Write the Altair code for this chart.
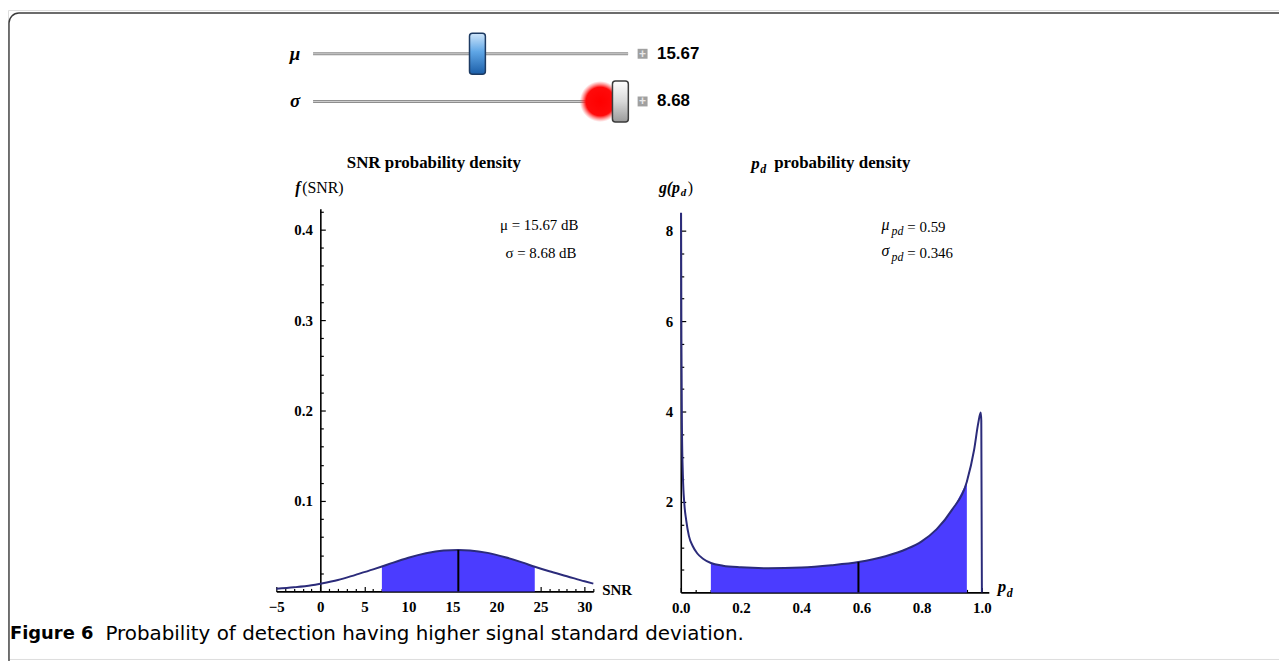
import altair as alt
import pandas as pd

W, H = 1279, 653

# ---------------- values ----------------
slider_names = ["μ", "σ"]
slider_values = [15.67, 8.68]
slider_labels = ["15.67", "8.68"]
slider_min = [-0.4, -0.1]
slider_max = [30.4, 8.9]

snr = [-5, -3, -1, 0, 2, 4, 6, 6.99, 8, 10, 12, 14, 15.67, 17, 19, 21, 23, 24.35, 26, 28, 30, 31]
f_snr = [0.0028, 0.0045, 0.0068, 0.0085, 0.0125, 0.0183, 0.0243, 0.0275, 0.0309, 0.0372, 0.0421,
         0.0451, 0.0458, 0.0453, 0.0426, 0.0378, 0.0318, 0.0272, 0.0222, 0.0168, 0.0112, 0.0086]
snr_mean = 15.67
snr_std = 8.68
snr_mean_f = 0.0458

pd_vals = [0.0008, 0.002, 0.004, 0.007, 0.012, 0.018, 0.027, 0.04, 0.055, 0.075, 0.10, 0.14, 0.20,
           0.29, 0.40, 0.50, 0.59, 0.68, 0.75, 0.80, 0.85, 0.90, 0.95, 0.974, 0.988, 0.996, 0.998, 1.0]
g_pd = [8.4, 5.6, 3.6, 2.6, 1.95, 1.6, 1.25, 1.02, 0.86, 0.74, 0.65, 0.59, 0.555,
        0.535, 0.55, 0.60, 0.67, 0.80, 0.96, 1.13, 1.40, 1.82, 2.45, 3.15, 3.75, 3.98, 3.8, 0.0]
pd_fill_lo = 0.10
pd_fill_hi = 0.95
pd_mean = 0.59
pd_mean_g = 0.67

snr_ticks_major = [-5, 0, 5, 10, 15, 20, 25, 30]
snr_ticks_minor = list(range(-5, 32))
f_ticks_major = [0.1, 0.2, 0.3, 0.4]
f_ticks_minor = [round(0.02 * k, 2) for k in range(1, 22)]
pd_ticks_major = [0.0, 0.2, 0.4, 0.6, 0.8, 1.0]
pd_ticks_minor = [round(0.05 * k, 2) for k in range(0, 21)]
g_ticks_major = [2, 4, 6, 8]
g_ticks_minor = [0.5 * k for k in range(1, 17)]

caption_bold = "Figure 6"
caption_rest = "Probability of detection having higher signal standard deviation."

# ---------------- styles ----------------
FILL = "#4b3cff"
CURVE = "#2b2b7a"
SERIF = "Liberation Serif"
SANS = "DejaVu Sans"

LX = alt.Scale(domain=[-5, 31], range=[270, 589], nice=False, zero=False)
LY = alt.Scale(domain=[0, 0.423], range=[585, 200], nice=False, zero=False)
RX = alt.Scale(domain=[0, 1.023], range=[677, 987], nice=False, zero=False)
RY = alt.Scale(domain=[0, 8.4], range=[586, 204], nice=False, zero=False)
SX = alt.Scale(domain=[0, 1], range=[307, 624], nice=False, zero=False)
SY = alt.Scale(domain=[0, 1], range=[44, 92], nice=False, zero=False)
FX = alt.Scale(domain=[0, 1], range=[0, W], nice=False, zero=False)
FY = alt.Scale(domain=[0, 1], range=[0, H], nice=False, zero=False)

AX = dict(grid=False, title=None, labelFont=SERIF, labelFontSize=15, labelFontWeight="bold",
          labelColor="black", labelFlush=False, labelOverlap=False, domain=True,
          domainColor="black", domainWidth=1.6, ticks=False, labelPadding=8)
TK = dict(grid=False, title=None, labels=False, domain=False, ticks=True,
          tickColor="black", tickWidth=1.2)


def tick_size(test):
    return {"condition": {"test": test, "value": 5}, "value": 3}


def L(px, py):
    return ((px - 322.3) / 8.861, (593 - py) / 910)


def R(px, py):
    return ((px - 685) / 303, (594 - py) / 45.5)


def text(rows, xs, ys, **style):
    df = pd.DataFrame(rows, columns=["x", "y", "t"])
    return alt.Chart(df).mark_text(baseline="middle", color="black", **style).encode(
        x=alt.X("x:Q", scale=xs, axis=None),
        y=alt.Y("y:Q", scale=ys, axis=None),
        text="t:N",
    )


# ---------------- left panel ----------------
snr_df = pd.DataFrame({"snr": snr, "f": f_snr})
lo, hi = round(snr_mean - snr_std, 2), round(snr_mean + snr_std, 2)

left_axes = alt.Chart(snr_df).mark_point(opacity=0).encode(
    x=alt.X("snr:Q", scale=LX, axis=alt.Axis(orient="bottom", offset=585 - H, values=snr_ticks_major, format="d", **AX)),
    y=alt.Y("f:Q", scale=LY, axis=alt.Axis(orient="left", offset=-314.3, values=f_ticks_major, format=".1f", **AX)),
)
left_ticks = alt.Chart(snr_df).mark_point(opacity=0).encode(
    x=alt.X("snr:Q", scale=LX, axis=alt.Axis(orient="top", offset=-585, values=snr_ticks_minor,
                                              tickSize=tick_size("datum.value % 5 === 0"), **TK)),
    y=alt.Y("f:Q", scale=LY, axis=alt.Axis(orient="right", offset=314.3 - W, values=f_ticks_minor,
                                           tickSize=tick_size("abs(datum.value*10 - round(datum.value*10)) < 0.001"), **TK)),
)

left_area = alt.Chart(snr_df).transform_filter(
    alt.FieldRangePredicate(field="snr", range=[lo, hi])
).mark_area(color=FILL, interpolate="monotone").encode(
    x=alt.X("snr:Q", scale=LX, axis=None), y=alt.Y("f:Q", scale=LY, axis=None))
left_line = alt.Chart(snr_df).mark_line(color=CURVE, strokeWidth=2, interpolate="monotone").encode(
    x=alt.X("snr:Q", scale=LX, axis=None), y=alt.Y("f:Q", scale=LY, axis=None))
left_mean = alt.Chart(pd.DataFrame({"x": [snr_mean], "y0": [0.0], "y1": [snr_mean_f]})).mark_rule(
    color="black", strokeWidth=2).encode(
    x=alt.X("x:Q", scale=LX, axis=None), y=alt.Y("y0:Q", scale=LY, axis=None), y2="y1:Q")

left_texts = [
    text([(*L(436.5, 162), "SNR probability density")], LX, LY, font=SERIF, fontSize=17, fontWeight="bold", align="center"),
    text([(*L(297, 187), "f")], LX, LY, font=SERIF, fontSize=16, fontStyle="italic", fontWeight="bold", align="left"),
    text([(*L(304, 187), "(SNR)")], LX, LY, font=SERIF, fontSize=16, align="left"),
    text([(*L(582, 224), "μ = 15.67 dB"), (*L(580, 253), "σ = 8.68 dB")], LX, LY, font=SERIF, fontSize=15, align="right"),
    text([(*L(606, 592), "SNR")], LX, LY, font=SERIF, fontSize=15, fontWeight="bold", align="left"),
]
left_group = alt.layer(left_area, left_line, left_mean, *left_texts)

# ---------------- right panel ----------------
pd_df = pd.DataFrame({"p": pd_vals, "g": g_pd})

right_axes = alt.Chart(pd_df).mark_point(opacity=0).encode(
    x=alt.X("p:Q", scale=RX, axis=alt.Axis(orient="bottom", offset=586 - H, values=pd_ticks_major, format=".1f", **AX)),
    y=alt.Y("g:Q", scale=RY, axis=alt.Axis(orient="left", offset=-677, values=g_ticks_major, format="d", **AX)),
)
right_ticks = alt.Chart(pd_df).mark_point(opacity=0).encode(
    x=alt.X("p:Q", scale=RX, axis=alt.Axis(orient="top", offset=-586, values=pd_ticks_minor,
                                            tickSize=tick_size("abs(datum.value*5 - round(datum.value*5)) < 0.001"), **TK)),
    y=alt.Y("g:Q", scale=RY, axis=alt.Axis(orient="right", offset=677 - W, values=g_ticks_minor,
                                           tickSize=tick_size("datum.value % 2 === 0"), **TK)),
)

right_area = alt.Chart(pd_df).transform_filter(
    alt.FieldRangePredicate(field="p", range=[pd_fill_lo, pd_fill_hi])
).mark_area(color=FILL, interpolate="monotone").encode(
    x=alt.X("p:Q", scale=RX, axis=None), y=alt.Y("g:Q", scale=RY, axis=None))
right_line = alt.Chart(pd_df).mark_line(color=CURVE, strokeWidth=2, interpolate="monotone").encode(
    x=alt.X("p:Q", scale=RX, axis=None), y=alt.Y("g:Q", scale=RY, axis=None))
right_mean = alt.Chart(pd.DataFrame({"x": [pd_mean], "y0": [0.0], "y1": [pd_mean_g]})).mark_rule(
    color="black", strokeWidth=2).encode(
    x=alt.X("x:Q", scale=RX, axis=None), y=alt.Y("y0:Q", scale=RY, axis=None), y2="y1:Q")

right_texts = [
    text([(*R(756, 163), "p")], RX, RY, font=SERIF, fontSize=17, fontWeight="bold", fontStyle="italic", align="left"),
    text([(*R(765, 168), "d")], RX, RY, font=SERIF, fontSize=12, fontWeight="bold", fontStyle="italic", align="left"),
    text([(*R(779, 162), "probability density")], RX, RY, font=SERIF, fontSize=17, fontWeight="bold", align="left"),
    text([(*R(663, 187), "g(p")], RX, RY, font=SERIF, fontSize=16, fontStyle="italic", fontWeight="bold", align="left"),
    text([(*R(685, 192), "d")], RX, RY, font=SERIF, fontSize=11, fontStyle="italic", fontWeight="bold", align="left"),
    text([(*R(692, 187), ")")], RX, RY, font=SERIF, fontSize=16, align="left"),
    text([(*R(887, 224), "μ"), (*R(887, 250), "σ")], RX, RY, font=SERIF, fontSize=16, fontStyle="italic", align="left"),
    text([(*R(897, 230), "pd"), (*R(897, 256), "pd")], RX, RY, font=SERIF, fontSize=12, fontStyle="italic", align="left"),
    text([(*R(913, 226), "= 0.59"), (*R(913, 252), "= 0.346")], RX, RY, font=SERIF, fontSize=15, align="left"),
    text([(*R(1004, 589), "p")], RX, RY, font=SERIF, fontSize=17, fontStyle="italic", fontWeight="bold", align="left"),
    text([(*R(1013, 595), "d")], RX, RY, font=SERIF, fontSize=12, fontStyle="italic", fontWeight="bold", align="left"),
]
right_group = alt.layer(right_area, right_line, right_mean, *right_texts)

# ---------------- sliders ----------------
sl_df = pd.DataFrame({"name": slider_names, "value": slider_values, "label": slider_labels,
                      "lo": slider_min, "hi": slider_max, "row": [0, 1]})
sbase = alt.Chart(sl_df).transform_calculate(frac="(datum.value - datum.lo) / (datum.hi - datum.lo)")
sy = alt.Y("row:Q", scale=SY, axis=None)

track = sbase.transform_calculate(a="0", b="1").mark_rule(color="#8e8e8e", strokeWidth=3).encode(
    x=alt.X("a:Q", scale=SX, axis=None), x2="b:Q", y=sy)
track_hi = sbase.transform_calculate(a="0", b="1").mark_rule(color="#d0d0d0", strokeWidth=1).encode(
    x=alt.X("a:Q", scale=SX, axis=None), x2="b:Q", y=sy)

glow = sbase.transform_filter("datum.row == 1").transform_calculate(gx="datum.frac - 0.064").mark_circle(
    size=1700, opacity=1,
    color=alt.RadialGradient(gradient="radial", stops=[
        alt.GradientStop(color="#ff0000", offset=0),
        alt.GradientStop(color="#ff0a0a", offset=0.7),
        alt.GradientStop(color="rgba(255,80,80,0)", offset=1)],
        x1=0.5, y1=0.5, r1=0, x2=0.5, y2=0.5, r2=0.5)
).encode(x=alt.X("gx:Q", scale=SX, axis=None), y=sy)


def thumb(row, stops, stroke):
    return sbase.transform_filter(f"datum.row == {row}").transform_calculate(
        l="datum.frac - 0.0252", r="datum.frac + 0.0252", t="datum.row - 0.43", b="datum.row + 0.43"
    ).mark_rect(cornerRadius=3, stroke=stroke, strokeWidth=1.5,
                fill=alt.LinearGradient(gradient="linear", x1=0, x2=0, y1=0, y2=1,
                                        stops=[alt.GradientStop(color=c, offset=o) for o, c in stops])
    ).encode(x=alt.X("l:Q", scale=SX, axis=None), x2="r:Q",
             y=alt.Y("t:Q", scale=SY, axis=None), y2="b:Q")


thumb_mu = thumb(0, [(0, "#cfe6fa"), (0.45, "#5fa6e6"), (1, "#1b5ea8")], "#1d3b63")
thumb_sd = thumb(1, [(0, "#ffffff"), (0.5, "#d8d8d8"), (1, "#9a9a9a")], "#3b3b3b")

plus_box = sbase.transform_calculate(px="1.046").mark_square(size=100, color="#a0a0a0", opacity=1).encode(
    x=alt.X("px:Q", scale=SX, axis=None), y=sy)
plus_txt = sbase.transform_calculate(px="1.046").mark_text(
    text="+", color="#e8e8e8", fontSize=12, fontWeight="bold", font="Liberation Sans", baseline="middle").encode(
    x=alt.X("px:Q", scale=SX, axis=None), y=sy)
val_txt = sbase.transform_calculate(px="1.092").mark_text(
    align="left", baseline="middle", font="Liberation Sans", fontWeight="bold", fontSize=17, color="black").encode(
    x=alt.X("px:Q", scale=SX, axis=None), y=sy, text="label:N")
name_txt = sbase.transform_calculate(px="-0.057").mark_text(
    align="center", baseline="middle", font=SERIF, fontStyle="italic", fontWeight="bold", fontSize=19,
    color="black").encode(
    x=alt.X("px:Q", scale=SX, axis=None), y=sy, text="name:N")

slider_group = alt.layer(track, track_hi, glow, thumb_mu, thumb_sd, plus_box, plus_txt, val_txt, name_txt)

# ---------------- frame and caption ----------------
frame = alt.Chart(pd.DataFrame({"x0": [1 / W], "x1": [1.05], "y0": [3 / H], "y1": [1.2]})).mark_rect(
    fill=None, stroke="#3c3c3c", strokeWidth=1.4, cornerRadius=10).encode(
    x=alt.X("x0:Q", scale=FX, axis=None), x2="x1:Q",
    y=alt.Y("y0:Q", scale=FY, axis=None), y2="y1:Q")
cap1 = text([(2 / W, 628 / H, caption_bold)], FX, FY, font=SANS, fontSize=18, fontWeight="bold", align="left")
cap2 = text([(98 / W, 628 / H, caption_rest)], FX, FY, font=SANS, fontSize=20, align="left")
fig_group = alt.layer(frame, cap1, cap2)

chart = alt.layer(
    left_axes, left_ticks, right_axes, right_ticks, left_group, right_group, slider_group, fig_group
).resolve_scale(x="independent", y="independent").properties(
    width=W, height=H, autosize=alt.AutoSizeParams(type="none"), padding=0
).configure_view(stroke=None).configure(background="white")

chart.save("out.html", embed_options={"renderer": "svg", "actions": False})
